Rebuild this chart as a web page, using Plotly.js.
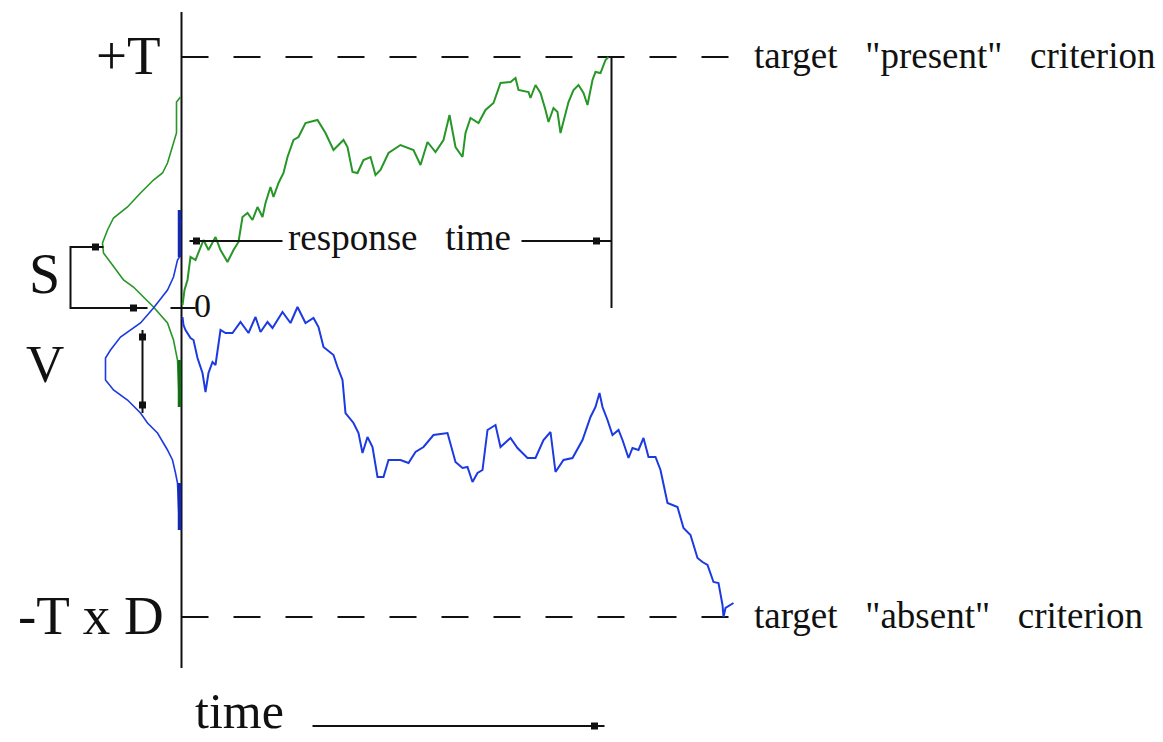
<!DOCTYPE html>
<html>
<head>
<meta charset="utf-8">
<script src="https://cdn.plot.ly/plotly-3.0.1.min.js"></script>
<style>html,body{margin:0;padding:0;background:#fff;}#chart{width:1163px;height:742px;}</style>
</head>
<body>
<div id="chart"></div>
<script>
// Evidence units: +T = 250 ; lower criterion = -T x D
const T = 250;
const D = 1.24;
const LOWER = -T * D;

// Green ("present") random walk: time, evidence
const greenT = [1,3,6,9,14,19,22,27,34,39,46,52,57,61,66,71,76,81,84,89,92,97,102,106,112,117,124,136,144,152,162,166,171,176,182,189,194,199,207,219,232,239,246,254,262,268,274,281,284,289,297,304,312,319,329,334,337,347,349,354,359,364,367,372,376,379,382,387,392,397,402,406,411,414,419,424,427];
const greenE = [2,17,27,50,47,60,67,57,70,57,45,57,65,90,94,87,100,90,104,120,110,124,134,150,167,170,184,187,174,157,167,160,135,134,147,150,132,137,154,162,157,142,165,155,167,192,160,150,174,189,184,197,204,224,225,229,217,215,209,222,214,197,185,199,195,174,185,205,217,222,214,202,227,235,234,247,250];

// Blue ("absent") random walk: time, evidence
const blueT = [1,2,4,9,12,16,21,24,27,31,34,39,44,51,59,67,74,79,86,91,101,109,116,124,132,137,142,152,156,161,164,172,177,181,186,191,196,202,207,219,227,234,242,252,266,274,281,286,291,296,301,306,314,319,329,336,346,354,362,369,374,382,391,401,409,414,418,421,426,431,437,441,447,451,457,462,467,474,479,486,496,502,509,516,521,526,532,537,541,542,544,552];
const blueE = [-10,-18,-23,-31,-33,-51,-66,-85,-66,-55,-58,-23,-26,-26,-15,-26,-10,-25,-15,-21,-5,-16,0,-16,-11,-20,-40,-48,-60,-73,-106,-116,-126,-146,-130,-140,-170,-170,-153,-153,-156,-145,-140,-128,-126,-155,-161,-160,-175,-166,-163,-123,-118,-140,-131,-141,-151,-151,-133,-125,-165,-153,-151,-133,-110,-100,-86,-100,-113,-128,-123,-133,-151,-141,-143,-131,-150,-150,-163,-196,-200,-221,-228,-251,-255,-258,-275,-276,-298,-310,-301,-296];

// Starting-point distribution (green): evidence level, horizontal deflection
const greenDistE = [210,205,174,160,144,134,127,114,100,89,77,64,54,42,27,20,0,-16,-33,-53,-80,-100];
const greenDistX = [-1,-5,-5,-9,-14,-19,-28,-41,-54,-68,-74,-79,-78,-69,-58,-48,-28,-14,-8,-4,-3,-2];
// Drift distribution (blue)
const blueDistE = [87,50,47,30,17,4,-1,-16,-30,-43,-51,-73,-83,-93,-106,-116,-126,-143,-153,-166,-176,-223];
const blueDistX = [-1,-2,-4,-8,-14,-24,-28,-41,-61,-71,-76,-76,-68,-54,-41,-34,-24,-14,-9,-6,-4,-2];

// Annotated parameter positions
const S_LEVEL = 60;          // start-point marker level
const V_RANGE = [-30, -98];  // drift-variability marker range
const RT = 430;              // response time (time units)
const RT_LEVEL = 66;
const END_T = 554;           // length of criterion lines

const GREEN = 'rgb(38,150,38)';
const BLUE = 'rgb(28,58,225)';
const INK = '#111';

const traces = [];
function line(x, y, opts) {
  traces.push(Object.assign({x: x, y: y, mode: 'lines', type: 'scatter', hoverinfo: 'skip',
    line: {color: INK, width: 2}}, opts || {}));
}
// axis
line([0, 0], [295, -361], {line: {color: INK, width: 2}});
// criteria
line([0, END_T], [T, T], {line: {color: INK, width: 2.2, dash: '27px,25px'}});
line([0, END_T], [LOWER, LOWER], {line: {color: INK, width: 2.2, dash: '27px,25px'}});
// distributions
line(greenDistX, greenDistE, {line: {color: GREEN, width: 1.6}});
line(blueDistX, blueDistE, {line: {color: BLUE, width: 1.6}});
line([-2, -2], [greenDistE[19], greenDistE[21]], {line: {color: 'rgb(20,110,20)', width: 3.5}});
line([-2, -2], [blueDistE[0] + 10, blueDistE[1]], {line: {color: 'rgb(20,40,180)', width: 3.5}});
line([-2, -2], [blueDistE[20], blueDistE[21]], {line: {color: 'rgb(20,40,180)', width: 3.5}});
// walks
line(greenT, greenE, {line: {color: GREEN, width: 2}});
line(blueT, blueE, {line: {color: BLUE, width: 2}});
// response time
line([RT, RT], [T, -1], {line: {color: INK, width: 2}});
line([8, 101], [RT_LEVEL, RT_LEVEL], {line: {color: INK, width: 2}});
line([340, RT], [RT_LEVEL, RT_LEVEL], {line: {color: INK, width: 2}});
traces.push({x: [15, 415], y: [RT_LEVEL, RT_LEVEL], mode: 'markers', type: 'scatter', hoverinfo: 'skip',
  marker: {symbol: 'square', size: 7, color: INK}});
// S bracket
line([-78, -111, -111, -34], [S_LEVEL, S_LEVEL, -1, -1], {line: {color: INK, width: 2}});
line([-11, 14], [-1, -1], {line: {color: INK, width: 2}});
traces.push({x: [-86, -48], y: [S_LEVEL, -1], mode: 'markers', type: 'scatter', hoverinfo: 'skip',
  marker: {symbol: 'square', size: 7, color: INK}});
// V arrow
line([-39, -39], [-23, -106], {line: {color: INK, width: 2}});
traces.push({x: [-39, -39], y: V_RANGE, mode: 'markers', type: 'scatter', hoverinfo: 'skip',
  marker: {symbol: 'square', size: 7, color: INK}});
// time arrow
line([131, 423], [-419, -419], {line: {color: INK, width: 2}});
traces.push({x: [413], y: [-419], mode: 'markers', type: 'scatter', hoverinfo: 'skip',
  marker: {symbol: 'square', size: 7, color: INK}});

const F = 'Liberation Serif, DejaVu Serif, serif';
function ann(text, x, y, size, xanchor) {
  return {text: text, x: x, y: y, xref: 'x', yref: 'y', showarrow: false, xanchor: xanchor || 'center',
    yanchor: 'middle', font: {family: F, size: size, color: INK}};
}
const SP = '&nbsp;&nbsp;&nbsp;';
const annotations = [
  ann('+T', -19, T + 2, 55, 'right'),
  ann('-T x D', -16, LOWER + 2, 55, 'right'),
  ann('S', -137, 33, 56),
  ann('V', -137, -57, 53),
  ann('0', 10, 2, 34, 'left'),
  ann('target' + SP + '"present"' + SP + 'criterion', 570, T + 2, 37, 'left'),
  ann('target' + SP + '"absent"' + SP + 'criterion', 570, LOWER + 2, 37, 'left'),
  ann('response' + SP + 'time', 218, RT_LEVEL + 4, 37),
  ann('time', 58, -404, 50)
];

const layout = {
  width: 1163, height: 742,
  margin: {l: 0, r: 0, t: 0, b: 0, pad: 0},
  paper_bgcolor: '#fff', plot_bgcolor: '#fff',
  showlegend: false,
  xaxis: {range: [-181.5, 981.5], visible: false, fixedrange: true},
  yaxis: {range: [-435, 307], visible: false, fixedrange: true},
  annotations: annotations
};
Plotly.newPlot('chart', traces, layout, {staticPlot: true, displayModeBar: false});
</script>
</body>
</html>
